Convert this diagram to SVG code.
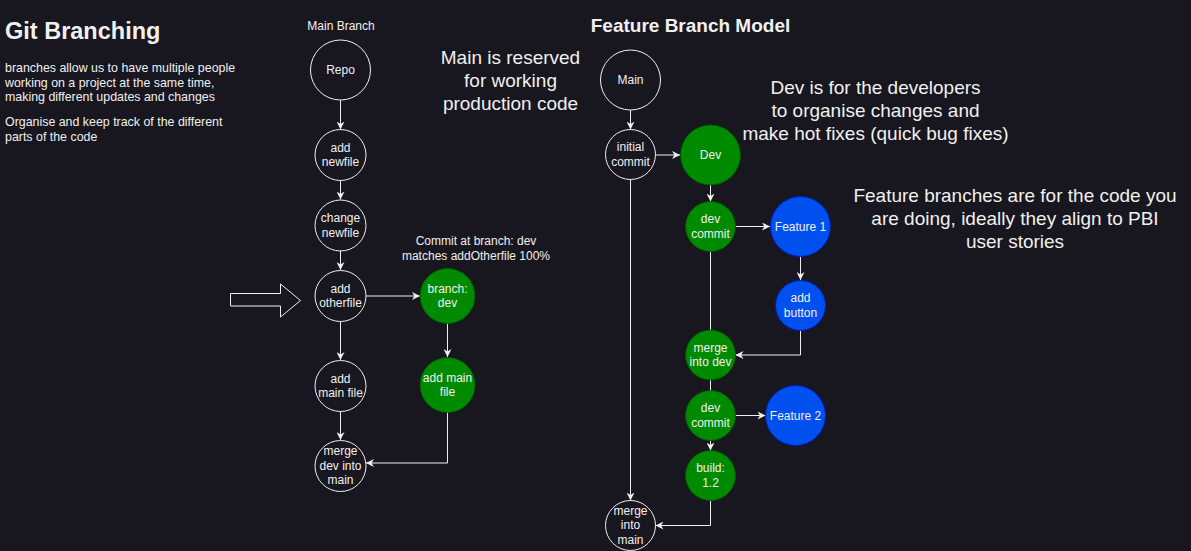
<svg xmlns="http://www.w3.org/2000/svg" width="1191" height="551" viewBox="0 0 1191 551">
<defs>
<style>
text{font-family:"Liberation Sans",Arial,sans-serif;fill:#f0f0f0;}
.n{font-size:12px;text-anchor:middle;}
.big{font-size:19px;text-anchor:middle;}
.w{fill:none;stroke:#f0f0f0;stroke-width:1;}
.g{fill:#008a00;stroke:#005700;stroke-width:1;}
.b{fill:#0050ef;stroke:#001dbc;stroke-width:1;}
.c{fill:none;stroke:#f0f0f0;stroke-width:1;}
.a{marker-end:url(#arr);}
</style>
<marker id="arr" viewBox="0 0 10 10" refX="10" refY="5" markerWidth="8" markerHeight="8" markerUnits="userSpaceOnUse" orient="auto">
<path d="M0,0 L10,5 L0,10 L3,5 z" fill="#f0f0f0"/>
</marker>
</defs>
<rect width="1191" height="551" fill="#18161e"/>

<g id="title-git">
<text x="5" y="38.5" style="font-size:23.5px;font-weight:bold">Git Branching</text>
</g>
<g id="desc-left" style="font-size:12.4px">
<text x="5" y="72">branches allow us to have multiple people</text>
<text x="5" y="86.5">working on a project at the same time,</text>
<text x="5" y="101">making different updates and changes</text>
<text x="5" y="126">Organise and keep track of the different</text>
<text x="5" y="140.5">parts of the code</text>
</g>
<g id="label-main-branch"><text class="n" x="341" y="29.5">Main Branch</text></g>
<g id="label-commit">
<text class="n" x="476" y="244.5">Commit at branch: dev</text>
<text class="n" x="476" y="259.5">matches addOtherfile 100%</text>
</g>
<g id="title-feature">
<text x="690.5" y="32" style="font-size:19px;font-weight:bold;text-anchor:middle">Feature Branch Model</text>
</g>
<g id="note-main">
<text class="big" x="510.5" y="64">Main is reserved</text>
<text class="big" x="510.5" y="87">for working</text>
<text class="big" x="510.5" y="110">production code</text>
</g>
<g id="note-dev">
<text class="big" x="875.5" y="93.5">Dev is for the developers</text>
<text class="big" x="875.5" y="116.5">to organise changes and</text>
<text class="big" x="875.5" y="139.5">make hot fixes (quick bug fixes)</text>
</g>
<g id="note-feature">
<text class="big" x="1015" y="202">Feature branches are for the code you</text>
<text class="big" x="1015" y="225">are doing, ideally they align to PBI</text>
<text class="big" x="1015" y="248">user stories</text>
</g>
<g id="block-arrow">
<path d="M230.5,293.5 H280.5 V284 L300.5,300.5 L280.5,317 V306 H230.5 Z" fill="none" stroke="#f0f0f0" stroke-width="1"/>
</g>

<g id="connectors">
<path class="c a" d="M340.5,100 V129.5"/>
<path class="c a" d="M340.5,180.5 V199.5"/>
<path class="c a" d="M340.5,250.5 V270"/>
<path class="c a" d="M340.5,321.5 V360"/>
<path class="c a" d="M340.5,411.5 V440"/>
<path class="c a" d="M366,296 H420"/>
<path class="c a" d="M447.5,323.5 V357"/>
<path class="c a" d="M447.5,412.5 V463 H366"/>
<path class="c a" d="M630.5,110 V129.5"/>
<path class="c a" d="M655.5,155 H680"/>
<path class="c a" d="M630.5,179.5 V500.5"/>
<path class="c a" d="M710.5,185 V201.5"/>
<path class="c a" d="M735.5,226.5 H770"/>
<path class="c a" d="M800.5,256.5 V280"/>
<path class="c" d="M710.5,251.5 V330"/>
<path class="c a" d="M800.5,330.5 V355 H735.5"/>
<path class="c" d="M710.5,380 V391"/>
<path class="c a" d="M735.5,415.5 H765.5"/>
<path class="c a" d="M710.5,440.5 V450.5"/>
<path class="c a" d="M710.5,500.5 V525.5 H655.5"/>
</g>

<g id="node-repo"><circle class="w" cx="340.5" cy="70" r="30"/><text class="n" x="340.5" y="74">Repo</text></g>
<g id="node-add-newfile"><circle class="w" cx="340.5" cy="155" r="25.5"/><text class="n" x="340.5" y="151.6">add</text><text class="n" x="340.5" y="166">newfile</text></g>
<g id="node-change-newfile"><circle class="w" cx="340.5" cy="225.5" r="25.5"/><text class="n" x="340.5" y="222">change</text><text class="n" x="340.5" y="236.5">newfile</text></g>
<g id="node-add-otherfile"><circle class="w" cx="340.5" cy="296" r="25.5"/><text class="n" x="340.5" y="292.6">add</text><text class="n" x="340.5" y="307">otherfile</text></g>
<g id="node-add-main-file"><circle class="w" cx="340.5" cy="386" r="25.5"/><text class="n" x="340.5" y="382.6">add</text><text class="n" x="340.5" y="397">main file</text></g>
<g id="node-merge-dev-into-main"><circle class="w" cx="340.5" cy="466" r="25.5"/><text class="n" x="340.5" y="455.4">merge</text><text class="n" x="340.5" y="469.8">dev into</text><text class="n" x="340.5" y="484.2">main</text></g>
<g id="node-branch-dev"><circle class="g" cx="447.5" cy="296" r="27.5"/><text class="n" x="447.5" y="292.6">branch:</text><text class="n" x="447.5" y="307">dev</text></g>
<g id="node-add-main-file-dev"><circle class="g" cx="447.5" cy="385" r="27.5"/><text class="n" x="447.5" y="381.6">add main</text><text class="n" x="447.5" y="396">file</text></g>

<g id="node-main"><circle class="w" cx="630.5" cy="80" r="30"/><text class="n" x="630.5" y="84">Main</text></g>
<g id="node-initial-commit"><circle class="w" cx="630.5" cy="154.5" r="25"/><text class="n" x="630.5" y="151.1">initial</text><text class="n" x="630.5" y="165.5">commit</text></g>
<g id="node-dev"><circle class="g" cx="710.5" cy="155" r="30"/><text class="n" x="710.5" y="159">Dev</text></g>
<g id="node-dev-commit-1"><circle class="g" cx="710.5" cy="226.5" r="25"/><text class="n" x="710.5" y="223.1">dev</text><text class="n" x="710.5" y="237.5">commit</text></g>
<g id="node-feature-1"><circle class="b" cx="800.5" cy="226.5" r="30"/><text class="n" x="800.5" y="230.5">Feature 1</text></g>
<g id="node-add-button"><circle class="b" cx="800.5" cy="305.5" r="25"/><text class="n" x="800.5" y="302.1">add</text><text class="n" x="800.5" y="316.5">button</text></g>
<g id="node-merge-into-dev"><circle class="g" cx="710.5" cy="355" r="25"/><text class="n" x="710.5" y="351.6">merge</text><text class="n" x="710.5" y="366">into dev</text></g>
<g id="node-dev-commit-2"><circle class="g" cx="710.5" cy="415.5" r="25"/><text class="n" x="710.5" y="412.1">dev</text><text class="n" x="710.5" y="426.5">commit</text></g>
<g id="node-feature-2"><circle class="b" cx="795.5" cy="415.5" r="30"/><text class="n" x="795.5" y="419.5">Feature 2</text></g>
<g id="node-build"><circle class="g" cx="710.5" cy="475.5" r="25"/><text class="n" x="710.5" y="472.1">build:</text><text class="n" x="710.5" y="486.5">1.2</text></g>
<g id="node-merge-into-main"><circle class="w" cx="630.5" cy="525.5" r="25"/><text class="n" x="630.5" y="514.9">merge</text><text class="n" x="630.5" y="529.3">into</text><text class="n" x="630.5" y="543.7">main</text></g>
</svg>
